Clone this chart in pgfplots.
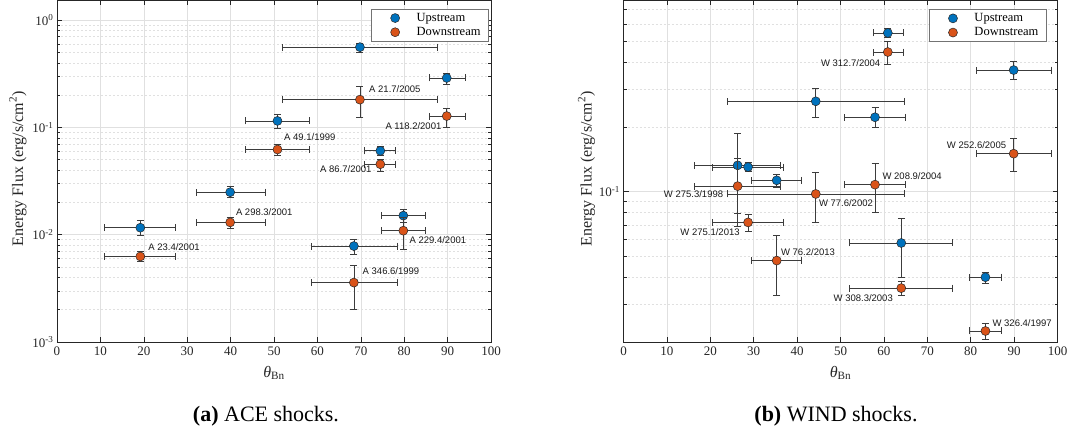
\documentclass[border=0pt]{standalone}
\usepackage{pgfplots}
\usepackage{pgfplotstable}
\pgfplotsset{compat=1.18}
\usepackage{fontspec}
\setmainfont{Liberation Serif}
\newfontfamily\annfont{Liberation Sans}
\definecolor{mblue}{RGB}{0,114,189}
\definecolor{morange}{RGB}{217,83,25}
\definecolor{axc}{RGB}{38,38,38}
\definecolor{ebc}{RGB}{60,60,60}

% ACE upstream
\pgfplotstableread{
x     xm    xp    y        ym       yp
69.8  17.8  17.9  0.56     0.055    0.05
89.8  4.1   4.2   0.289    0.038    0.033
50.8  7.3   7.3   0.115    0.018    0.018
74.5  3.7   3.5   0.0605   0.005    0.0065
39.9  7.7   8.0   0.0249   0.0028   0.0031
19.2  8.4   8.1   0.01162  0.00182  0.00188
79.8  5.0   5.1   0.01506  0.00206  0.00204
68.4  9.9   10.0  0.00784  0.00134  0.00126
}\aceup
% ACE downstream
\pgfplotstableread{
x     xm    xp    y        ym       yp
69.8  17.8  17.9  0.1815   0.0585   0.0605
89.8  4.1   4.2   0.1276   0.0269   0.0219
50.8  7.3   7.3   0.0623   0.0068   0.0065
74.5  3.7   3.5   0.0454   0.0065   0.0045
39.9  7.7   8.0   0.01303  0.00145  0.00147
19.2  8.4   8.1   0.00627  0.00067  0.00073
79.8  5.0   5.1   0.0109   0.00355  0.0036
68.4  9.9   10.0  0.00358  0.00156  0.00163
}\acedown
% WIND upstream
\pgfplotstableread{
x     xm    xp    y        ym       yp
60.9  3.4   3.5   0.546    0.026    0.028
89.9  8.6   8.7   0.367    0.036    0.036
44.3  20.4  20.3  0.2627   0.0407   0.0403
57.95 7.15  6.95  0.2215   0.0235   0.0235
26.3  10.0  9.9   0.1324   0.0534   0.0531
28.7  8.3   8.2   0.130    0.0055   0.006
35.3  5.8   5.7   0.1128   0.0079   0.0075
64.0  11.9  11.8  0.0577   0.0177   0.0173
83.4  3.7   3.6   0.040    0.0025   0.0021
}\windup
% WIND downstream
\pgfplotstableread{
x     xm    xp    y        ym       yp
60.9  3.4   3.5   0.445    0.053    0.053
89.9  8.6   8.7   0.150    0.0261   0.026
44.3  20.4  20.3  0.0975   0.0256   0.0257
57.95 7.15  6.95  0.1077   0.0272   0.0273
26.3  10.0  9.9   0.106    0.0367   0.0367
28.7  8.3   8.2   0.0719   0.0069   0.0066
35.3  5.8   5.7   0.0478   0.0148   0.0145
64.0  11.9  11.8  0.0356   0.0027   0.0027
83.4  3.7   3.6   0.0225   0.002    0.002
}\winddown

\tikzset{ann/.style={font=\annfont\fontsize{9.5}{11}\selectfont, inner sep=0pt, text=black!90}}

\begin{document}
\begin{tikzpicture}
\path[use as bounding box] (0pt,0pt) rectangle (1071pt,-438pt);

% ---------------- (a) ACE ----------------
\begin{axis}[
  at={(57pt,-342pt)}, anchor=south west,
  scale only axis, width=434pt, height=342pt,
  xmin=0, xmax=100, xtick={0,10,20,30,40,50,60,70,80,90,100},
  /pgf/number format/assume math mode=true,
  ymode=log, ymin=0.001, ymax=1.54,
  ytick={0.001,0.01,0.1,1},
  yticklabels={10\textsuperscript{-3},10\textsuperscript{-2},10\textsuperscript{-1},10\textsuperscript{0}},
  minor ytick={0.002,0.003,0.004,0.005,0.006,0.007,0.008,0.009,
               0.02,0.03,0.04,0.05,0.06,0.07,0.08,0.09,
               0.2,0.3,0.4,0.5,0.6,0.7,0.8,0.9},
  axis line style={axc, line width=0.6pt},
  tick style={axc, line width=0.6pt},
  major tick length=5pt, minor tick length=3pt,
  xmajorgrids, ymajorgrids, yminorgrids,
  major grid style={black!12, line width=0.5pt},
  minor grid style={black!12, line width=0.5pt, dash pattern=on 2pt off 2pt},
  tick label style={font=\fontsize{13}{15}\selectfont, text=axc},
  xticklabel shift=1pt,
  clip mode=individual,
  xlabel={\textit{θ}\textsubscript{Bn}},
  xlabel style={at={(axis description cs:0.5,0)}, anchor=base, yshift=-35pt,
                font=\fontsize{16}{18}\selectfont, text=axc},
  ylabel={Energy Flux (erg/s/cm\textsuperscript{2})},
  ylabel style={at={(axis description cs:-0.0783,0.507)}, anchor=base,
                font=\fontsize{16}{18}\selectfont, text=axc},
  legend style={at={(rel axis cs:0.995,0.974)}, anchor=north east, draw=black!55,
                line width=0.6pt, font=\fontsize{12.5}{14}\selectfont, text=black,
                inner xsep=6pt, inner ysep=2pt, row sep=0.5pt},
  legend cell align=left,
  legend image code/.code={\path (-18pt,-5pt) rectangle (19.5pt,5pt);
                           \draw[#1] plot coordinates {(0pt,0pt)};},
]
\addplot[draw=none, mark=*, mark size=4.5pt,
    mark options={fill=mblue, draw=black!85, line width=0.5pt},
    error bars/.cd, x dir=both, x explicit, y dir=both, y explicit,
    error bar style={draw=ebc, line width=0.7pt},
    error mark options={draw=ebc, line width=0.7pt, mark size=3.5pt, rotate=90}]
  table[x=x, y=y, x error plus=xp, x error minus=xm,
  y error plus=yp, y error minus=ym] {\aceup};
\addlegendentry{Upstream}
\addplot[draw=none, mark=*, mark size=4.5pt,
    mark options={fill=morange, draw=black!85, line width=0.5pt},
    error bars/.cd, x dir=both, x explicit, y dir=both, y explicit,
    error bar style={draw=ebc, line width=0.7pt},
    error mark options={draw=ebc, line width=0.7pt, mark size=3.5pt, rotate=90}]
  table[x=x, y=y, x error plus=xp, x error minus=xm,
  y error plus=yp, y error minus=ym] {\acedown};
\addlegendentry{Downstream}
\node[ann, anchor=west] at (axis cs:71.9,0.228) {A 21.7/2005};
\node[ann, anchor=east] at (axis cs:88.6,0.1037) {A 118.2/2001};
\node[ann, anchor=west] at (axis cs:52.3,0.0806) {A 49.1/1999};
\node[ann, anchor=east] at (axis cs:72.5,0.0405) {A 86.7/2001};
\node[ann, anchor=west] at (axis cs:41.2,0.01615) {A 298.3/2001};
\node[ann, anchor=west] at (axis cs:21.0,0.0076) {A 23.4/2001};
\node[ann, anchor=west] at (axis cs:81.2,0.00898) {A 229.4/2001};
\node[ann, anchor=west] at (axis cs:70.4,0.00454) {A 346.6/1999};
\end{axis}

% ---------------- (b) WIND ----------------
\begin{axis}[
  at={(623.5pt,-342pt)}, anchor=south west,
  scale only axis, width=434pt, height=342pt,
  xmin=0, xmax=100, xtick={0,10,20,30,40,50,60,70,80,90,100},
  /pgf/number format/assume math mode=true,
  ymode=log, ymin=0.02, ymax=0.7768,
  ytick={0.1},
  yticklabels={10\textsuperscript{-1}},
  minor ytick={0.02,0.03,0.04,0.05,0.06,0.07,0.08,0.09,0.2,0.3,0.4,0.5,0.6,0.7},
  axis line style={axc, line width=0.6pt},
  tick style={axc, line width=0.6pt},
  major tick length=5pt, minor tick length=3pt,
  xmajorgrids, ymajorgrids, yminorgrids,
  major grid style={black!12, line width=0.5pt},
  minor grid style={black!12, line width=0.5pt, dash pattern=on 2pt off 2pt},
  tick label style={font=\fontsize{13}{15}\selectfont, text=axc},
  xticklabel shift=1pt,
  clip mode=individual,
  xlabel={\textit{θ}\textsubscript{Bn}},
  xlabel style={at={(axis description cs:0.5,0)}, anchor=base, yshift=-35pt,
                font=\fontsize{16}{18}\selectfont, text=axc},
  ylabel={Energy Flux (erg/s/cm\textsuperscript{2})},
  ylabel style={at={(axis description cs:-0.0736,0.507)}, anchor=base,
                font=\fontsize{16}{18}\selectfont, text=axc},
  legend style={at={(rel axis cs:0.975,0.973)}, anchor=north east, draw=black!55,
                line width=0.6pt, font=\fontsize{12.5}{14}\selectfont, text=black,
                inner xsep=6pt, inner ysep=2pt, row sep=0.5pt},
  legend cell align=left,
  legend image code/.code={\path (-18pt,-5pt) rectangle (19.5pt,5pt);
                           \draw[#1] plot coordinates {(0pt,0pt)};},
]
\addplot[draw=none, mark=*, mark size=4.5pt,
    mark options={fill=mblue, draw=black!85, line width=0.5pt},
    error bars/.cd, x dir=both, x explicit, y dir=both, y explicit,
    error bar style={draw=ebc, line width=0.7pt},
    error mark options={draw=ebc, line width=0.7pt, mark size=3.5pt, rotate=90}]
  table[x=x, y=y, x error plus=xp, x error minus=xm,
  y error plus=yp, y error minus=ym] {\windup};
\addlegendentry{Upstream}
\addplot[draw=none, mark=*, mark size=4.5pt,
    mark options={fill=morange, draw=black!85, line width=0.5pt},
    error bars/.cd, x dir=both, x explicit, y dir=both, y explicit,
    error bar style={draw=ebc, line width=0.7pt},
    error mark options={draw=ebc, line width=0.7pt, mark size=3.5pt, rotate=90}]
  table[x=x, y=y, x error plus=xp, x error minus=xm,
  y error plus=yp, y error minus=ym] {\winddown};
\addlegendentry{Downstream}
\node[ann, anchor=east] at (axis cs:59.2,0.395) {W 312.7/2004};
\node[ann, anchor=east] at (axis cs:88.2,0.1644) {W 252.6/2005};
\node[ann, anchor=west] at (axis cs:59.65,0.1181) {W 208.9/2004};
\node[ann, anchor=east] at (axis cs:23.0,0.0972) {W 275.3/1998};
\node[ann, anchor=west] at (axis cs:45.0,0.088) {W 77.6/2002};
\node[ann, anchor=east] at (axis cs:26.8,0.065) {W 275.1/2013};
\node[ann, anchor=west] at (axis cs:36.25,0.0523) {W 76.2/2013};
\node[ann, anchor=east] at (axis cs:62.1,0.032) {W 308.3/2003};
\node[ann, anchor=west] at (axis cs:85.0,0.0245) {W 326.4/1997};
\end{axis}

\node[anchor=base, font=\fontsize{22}{26}\selectfont] at (266pt,-421pt) {\textbf{(a)} ACE shocks.};
\node[anchor=base, font=\fontsize{22}{26}\selectfont] at (836pt,-421pt) {\textbf{(b)} WIND shocks.};
\end{tikzpicture}
\end{document}
